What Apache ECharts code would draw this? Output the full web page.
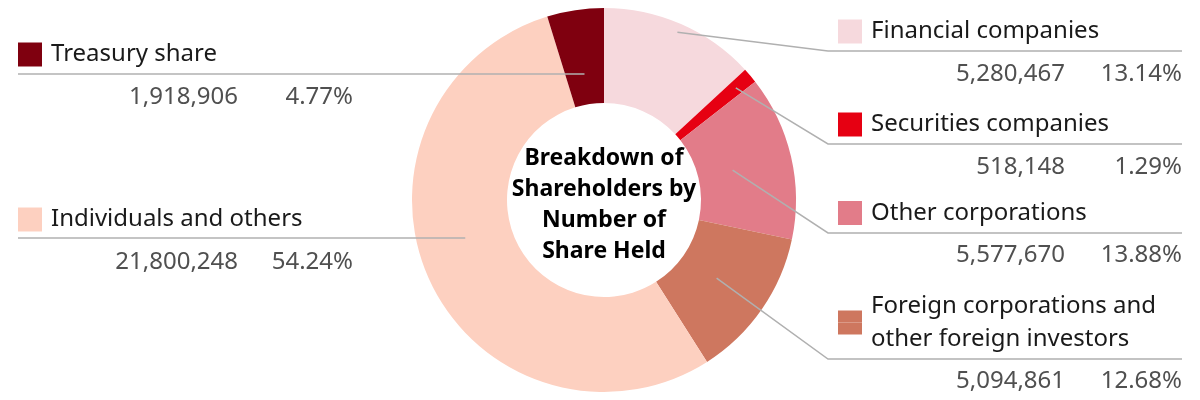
<!DOCTYPE html>
<html><head><meta charset="utf-8">
<script src="https://cdn.jsdelivr.net/npm/echarts@6/dist/echarts.min.js"></script>
<style>html,body{margin:0;padding:0;background:#fff}#c{width:1200px;height:400px}</style>
</head><body><div id="c"></div>
<script>
// ---- data ----
const categories = ['Financial companies', 'Securities companies', 'Other corporations',
  'Foreign corporations and\nother foreign investors', 'Individuals and others', 'Treasury share'];
const shares = [5280467, 518148, 5577670, 5094861, 21800248, 1918906];
const percentLabels = ['13.14%', '1.29%', '13.88%', '12.68%', '54.24%', '4.77%'];
const colors = ['#f6d9dd', '#e60012', '#e27c89', '#ce775f', '#fdd0c0', '#7f000f'];
const centerTitle = 'Breakdown of\nShareholders by\nNumber of\nShare Held';

// ---- layout ----
const FONT = 'Noto Sans';
const CX = 604, CY = 200, R0 = 97, R1 = 192;
const labelSpots = [
  { side: 'R', top: 15, lineY: 51, anchorR: 183 },
  { side: 'R', top: 108, lineY: 144, anchorR: 173 },
  { side: 'R', top: 196.5, lineY: 233, anchorR: 132 },
  { side: 'R', top: 289.5, lineY: 359, anchorR: 137 },
  { side: 'L', top: 203, lineY: 238 },
  { side: 'L', top: 38, lineY: 74 }
];

const total = shares.reduce((a, b) => a + b, 0);
const angles = [];
let acc = 0;
shares.forEach(v => { const a0 = acc / total * 360; acc += v; angles.push([a0, acc / total * 360]); });

function fmt(n) { return String(n).replace(/\B(?=(\d{3})+(?!\d))/g, ','); }

function leftAnchor(i, y) {
  const dy = y - CY; let mn = null, mx = null;
  for (let dx = -R1; dx <= 0; dx += 0.5) {
    const r = Math.hypot(dx, dy);
    if (r < R0 || r > R1) continue;
    let th = Math.atan2(dx, -dy) * 180 / Math.PI; if (th < 0) th += 360;
    if (th >= angles[i][0] && th <= angles[i][1]) { if (mn === null) mn = dx; mx = dx; }
  }
  if (mn === null) { mn = mx = -(R0 + R1) / 2; }
  return [CX + (mn + mx) / 2, y];
}

const rich = {
  name: { fontFamily: FONT, fontSize: 24, color: '#1a1a1a', lineHeight: 33 },
  gap: { width: 9, height: 1, lineHeight: 1 },
  valR: { fontFamily: FONT, fontSize: 24, color: '#505050', lineHeight: 52, width: 227, align: 'right' },
  pctR: { fontFamily: FONT, fontSize: 24, color: '#505050', lineHeight: 52, width: 117, align: 'right' },
  valL: { fontFamily: FONT, fontSize: 24, color: '#505050', lineHeight: 52, width: 220, align: 'right' },
  pctL: { fontFamily: FONT, fontSize: 24, color: '#505050', lineHeight: 52, width: 115, align: 'right' }
};
colors.forEach((c, i) => {
  rich['sq' + i] = { width: 24, height: 24, lineHeight: 24, backgroundColor: c };
  rich['sqT' + i] = { width: 24, height: 12, lineHeight: 12, backgroundColor: c, verticalAlign: 'bottom' };
  rich['sqB' + i] = { width: 24, height: 12, lineHeight: 12, backgroundColor: c, verticalAlign: 'top' };
});

const pieBase = {
  type: 'pie', center: [CX, CY], radius: [R0, R1], startAngle: 90, clockwise: true,
  avoidLabelOverlap: false, silent: true
};

const chart = echarts.init(document.getElementById('c'), null, { renderer: 'canvas' });
chart.setOption({
  animation: false,
  title: {
    text: centerTitle, left: CX, top: 143, textAlign: 'center', padding: 0,
    textStyle: { fontFamily: FONT, fontSize: 23, fontWeight: 'bold', lineHeight: 31, color: '#000' }
  },
  series: [
    Object.assign({}, pieBase, {
      z: 2,
      itemStyle: { borderWidth: 0 },
      data: categories.map((n, i) => ({ name: n, value: shares[i], itemStyle: { color: colors[i] } })),
      label: { show: false }, labelLine: { show: false }
    }),
    Object.assign({}, pieBase, {
      z: 3,
      itemStyle: { color: 'rgba(0,0,0,0)', borderWidth: 0 },
      data: categories.map((n, i) => ({ name: n, value: shares[i] })),
      label: {
        show: true, position: 'outside', align: 'left', verticalAlign: 'top',
        fontFamily: FONT, fontSize: 24, rich,
        formatter: p => {
          const i = p.dataIndex, side = labelSpots[i].side;
          const lines = categories[i].split('\n');
          let s;
          if (lines.length === 1) s = `{sq${i}|}{gap|}{name|${lines[0]}}`;
          else s = `{sqT${i}|}{gap|}{name|${lines[0]}}\n{sqB${i}|}{gap|}{name|${lines[1]}}`;
          return s + `\n{val${side}|${fmt(shares[i])}}{pct${side}|${percentLabels[i]}}`;
        }
      },
      labelLine: { show: true, smooth: false, length: 10, length2: 10, lineStyle: { color: '#b0b0b0', width: 1.5 } },
      labelLayout: p => {
        const i = p.dataIndex, s = labelSpots[i];
        if (s.side === 'R') {
          const mid = (angles[i][0] + angles[i][1]) / 2 * Math.PI / 180;
          const start = [CX + s.anchorR * Math.sin(mid), CY - s.anchorR * Math.cos(mid)];
          return { x: 838, y: s.top, align: 'left', verticalAlign: 'top',
            labelLinePoints: [start, [828, s.lineY], [1182, s.lineY]] };
        }
        const start = leftAnchor(i, s.lineY);
        return { x: 18, y: s.top, align: 'left', verticalAlign: 'top',
          labelLinePoints: [start, [(start[0] + 18) / 2, s.lineY], [18, s.lineY]] };
      }
    })
  ]
});
</script></body></html>
